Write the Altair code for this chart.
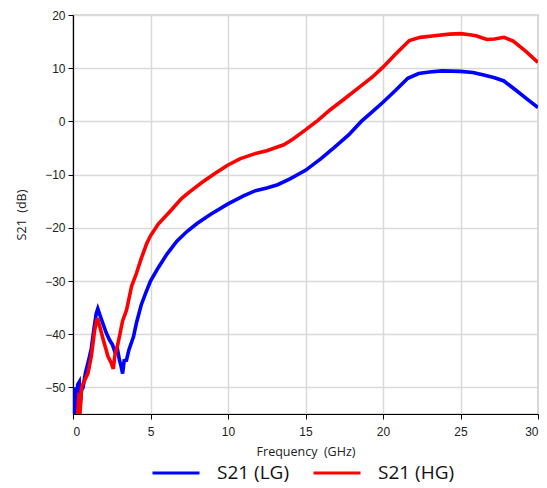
import altair as alt
import pandas as pd

lg_x = [0.10, 0.15, 0.25, 0.30, 0.40, 0.45, 0.55, 0.65, 0.80, 1.00, 1.18, 1.35, 1.50, 1.60, 1.75, 1.93,
        2.15, 2.36, 2.55, 2.70, 2.85, 3.00, 3.10, 3.20, 3.30, 3.45, 3.60, 3.90, 4.10, 4.40, 4.70, 5.00,
        5.50, 6.05, 6.70, 7.35, 8.00, 8.86, 10.0, 11.0, 11.7, 12.5, 13.2, 14.0, 15.0, 16.0, 16.9, 17.8,
        18.6, 19.3, 20.0, 20.8, 21.6, 22.3, 23.0, 23.8, 25.0, 25.8, 26.5, 27.2, 27.8, 28.6, 29.3, 30.0]
lg_y = [-55, -50, -54.5, -49.5, -49, -54, -50.5, -50, -47.3, -45, -42.7, -39, -36.1, -35.2, -36.5, -38,
        -39.8, -41.1, -42, -43.3, -42.5, -44.9, -46, -47.4, -45, -44.9, -43, -40.5, -37.8, -34.5, -32.2, -30,
        -27.5, -25, -22.5, -20.7, -19.2, -17.5, -15.5, -14, -13.1, -12.5, -11.9, -10.8, -9.2, -7, -4.8, -2.5,
        0, 1.8, 3.6, 5.8, 8.1, 9.0, 9.3, 9.5, 9.4, 9.2, 8.7, 8.2, 7.6, 5.8, 4.2, 2.6]

hg_x = [0.30, 0.40, 0.45, 0.55, 0.70, 0.96, 1.18, 1.40, 1.57, 1.75, 1.93, 2.26, 2.45, 2.60, 2.70, 2.90,
        3.20, 3.45, 3.78, 4.10, 4.40, 4.75, 5.00, 5.50, 6.27, 7.00, 7.50, 8.40, 9.20, 10.0, 10.8, 11.7,
        12.5, 13.6, 14.2, 15.0, 15.8, 16.6, 17.5, 18.5, 19.3, 20.0, 20.8, 21.7, 22.4, 23.3, 24.3, 25.0,
        25.6, 26.0, 26.7, 27.2, 27.8, 28.4, 29.2, 30.0]
hg_y = [-55, -51, -55, -50, -49, -47.4, -44.2, -39.2, -37, -38.8, -40.8, -44.2, -45.3, -46.5, -44, -41.8,
        -37.5, -35.5, -31, -28.5, -25.8, -23, -21.5, -19.3, -16.9, -14.5, -13.3, -11.3, -9.7, -8.2, -7, -6.1,
        -5.5, -4.4, -3.3, -1.6, 0.2, 2.2, 4.2, 6.5, 8.3, 10.2, 12.6, 15.2, 15.8, 16.1, 16.4, 16.5,
        16.3, 16.1, 15.4, 15.5, 15.8, 15.1, 13.2, 11.1]

series = ["S21 (LG)", "S21 (HG)"]
colors = ["#0000ff", "#ff0000"]

rows = []
for i, (x, y) in enumerate(zip(lg_x, lg_y)):
    rows.append({"f": x, "s": y, "series": series[0], "i": i})
for i, (x, y) in enumerate(zip(hg_x, hg_y)):
    rows.append({"f": x, "s": y, "series": series[1], "i": i})
df = pd.DataFrame(rows)

chart = alt.Chart(df).mark_line(strokeWidth=3.6, clip=True).encode(
    x=alt.X("f:Q", scale=alt.Scale(domain=[0, 30], nice=False),
            axis=alt.Axis(title="Frequency\u00a0 (GHz)", values=[0, 5, 10, 15, 20, 25, 30],
                          labelFont="Liberation Sans", labelFontSize=12, labelColor="#222",
                          titleFont="Open Sans", titleFontSize=12.5, titleFontWeight="normal",
                          titleColor="#222", labelPadding=7, titlePadding=8,
                          tickSize=5, tickColor="#000", domainColor="#000", domainWidth=1.2,
                          gridColor="#d9d9d9", gridWidth=1.5)),
    y=alt.Y("s:Q", scale=alt.Scale(domain=[-55, 20], nice=False),
            axis=alt.Axis(title="S21\u00a0 (dB)", values=[-50, -40, -30, -20, -10, 0, 10, 20],
                          labelFont="Liberation Sans", labelFontSize=12, labelColor="#222",
                          titleFont="Open Sans", titleFontSize=12.5, titleFontWeight="normal",
                          titleColor="#222", labelPadding=3, titlePadding=16,
                          tickSize=5, tickColor="#000", domainColor="#000", domainWidth=1.2,
                          gridColor="#d9d9d9", gridWidth=1.5)),
    color=alt.Color("series:N", scale=alt.Scale(domain=series, range=colors),
                    legend=alt.Legend(title=None, orient="none", direction="horizontal",
                                      legendX=78, legendY=433,
                                      symbolType="stroke", symbolSize=2209, symbolStrokeWidth=3,
                                      labelFont="Open Sans", labelFontSize=19, labelColor="#111",
                                      labelOffset=16, columnPadding=17)),
    order="i:Q",
).properties(
    width=465, height=399,
    padding={"left": 65, "top": 7, "right": 1, "bottom": 74},
    autosize=alt.AutoSizeParams(type="none"),
).configure_view(stroke="#777", strokeWidth=1.2)

chart.save("out.html", embed_options={"renderer": "svg", "actions": False})
